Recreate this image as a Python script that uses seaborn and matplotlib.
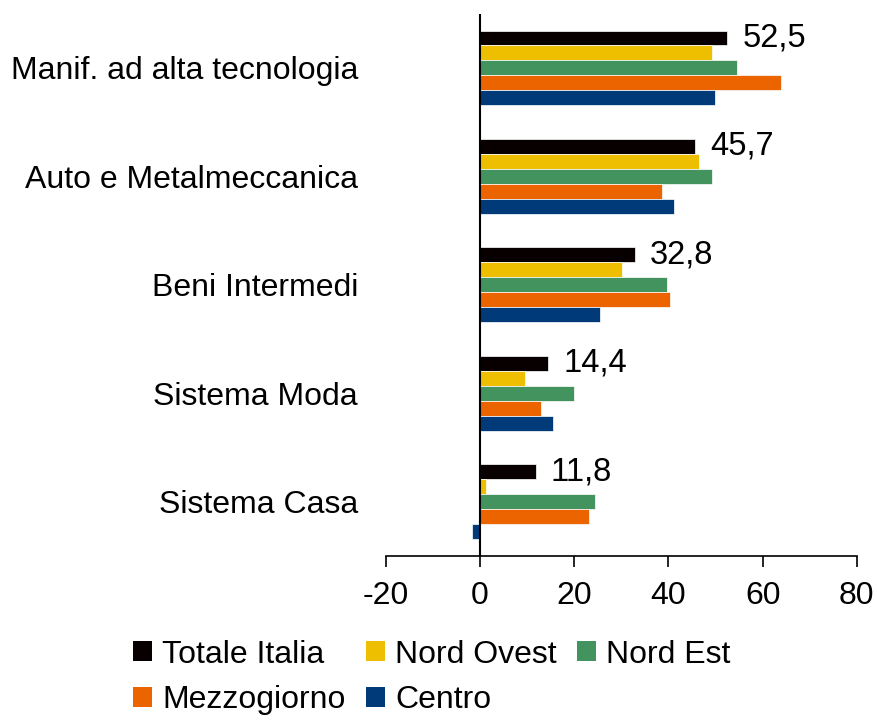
import pandas as pd
import matplotlib
matplotlib.use("Agg")
import matplotlib.pyplot as plt
from matplotlib.patches import Patch
import seaborn as sns

# data
settori = [
    "Manif. ad alta tecnologia",
    "Auto e Metalmeccanica",
    "Beni Intermedi",
    "Sistema Moda",
    "Sistema Casa",
]
aree = ["Totale Italia", "Nord Ovest", "Nord Est", "Mezzogiorno", "Centro"]
totale_italia = [52.5, 45.7, 32.8, 14.4, 11.8]
nord_ovest = [49.3, 46.4, 30.1, 9.6, 1.2]
nord_est = [54.6, 49.2, 39.7, 19.9, 24.4]
mezzogiorno = [63.9, 38.6, 40.3, 12.9, 23.2]
centro = [49.9, 41.2, 25.5, 15.4, -1.8]
x_ticks = [-20, 0, 20, 40, 60, 80]

colori = ["#080000", "#EEBE00", "#42935E", "#EB6400", "#003A78"]

# long format for seaborn
wide = pd.DataFrame({
    "settore": settori,
    "Totale Italia": totale_italia,
    "Nord Ovest": nord_ovest,
    "Nord Est": nord_est,
    "Mezzogiorno": mezzogiorno,
    "Centro": centro,
})
df = wide.melt(id_vars="settore", var_name="area", value_name="valore")

sns.set_theme(style="white")
plt.rcParams["font.family"] = ["Liberation Sans", "DejaVu Sans"]
plt.rcParams["axes.unicode_minus"] = False
plt.rcParams["text.color"] = "black"
plt.rcParams["xtick.color"] = "black"
plt.rcParams["ytick.color"] = "black"

fig = plt.figure(figsize=(8.77, 7.21), dpi=100)
ax = fig.add_axes([0.440, 0.229, 0.537, 0.752])

sns.barplot(
    data=df, x="valore", y="settore", hue="area",
    order=settori, hue_order=aree, palette=colori,
    orient="h", width=0.69, saturation=1, legend=False,
    edgecolor="white", linewidth=0.5, ax=ax,
)

# value labels only for Totale Italia
etichette = [f"{v:.1f}".replace(".", ",") for v in totale_italia]
ax.bar_label(ax.containers[0], labels=etichette, padding=11,
             fontsize=23.5, color="black")

ax.set_xlim(-20, 80)
ax.set_xticks(x_ticks)
ax.set_xticklabels([str(t) for t in x_ticks])
ax.set_xlabel("")
ax.set_ylabel("")

# axes styling
for s in ["top", "right", "left"]:
    ax.spines[s].set_visible(False)
ax.spines["bottom"].set_color("black")
ax.spines["bottom"].set_linewidth(1.2)
ax.axvline(0, color="black", linewidth=1.5, zorder=5)
ax.tick_params(axis="x", direction="out", length=8, width=1.2,
               color="black", bottom=True, labelsize=23, pad=10)
ax.tick_params(axis="y", length=0, labelsize=23, pad=20)

# legend: column-first order so rows read Totale, NO, NE / Mezz, Centro
ordine = [0, 3, 1, 4, 2]
handles = [Patch(facecolor=colori[i], edgecolor="none") for i in ordine]
labels = [aree[i] for i in ordine]
fig.legend(handles, labels, ncol=3, loc="upper left",
           bbox_to_anchor=(0.152, 0.113), frameon=False, fontsize=23,
           handlelength=0.6, handleheight=0.6, handletextpad=0.3,
           columnspacing=0.65, labelspacing=0.5, borderpad=0,
           borderaxespad=0)

fig.savefig("out.png", dpi=100)
